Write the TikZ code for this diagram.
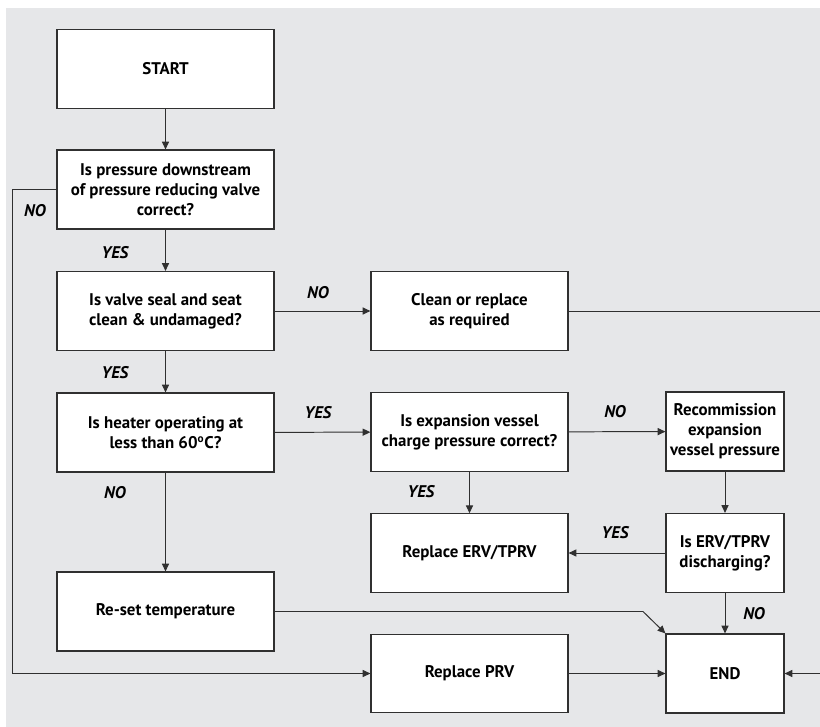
\documentclass[tikz,border=0pt]{standalone}
\usepackage{fontspec}
\setmainfont{PT Sans}
\usetikzlibrary{arrows.meta}

\definecolor{panelgray}{HTML}{E6E7E9}
\definecolor{linegray}{HTML}{303030}

\begin{document}
\begin{tikzpicture}[x=0.025cm, y=-0.025cm,
  box/.style={draw=linegray, line width=0.8pt, fill=white, align=center,
    inner sep=2pt, font=\fontsize{12}{14.2}\selectfont\bfseries},
  widebox/.style={box, minimum width=5.425cm, minimum height=1.975cm},
  midbox/.style={box, minimum width=4.925cm, minimum height=1.96cm},
  smallbox/.style={box, minimum width=2.95cm, minimum height=1.975cm},
  answer/.style={font=\fontsize{12}{14}\selectfont\bfseries\itshape, inner sep=0pt},
  arrow/.style={draw=linegray, line width=0.7pt, -{Triangle[length=5.5pt, width=5pt]}}]

\useasboundingbox (0,0) rectangle (820,727);
\fill[panelgray] (6,8) rectangle (840,740);

% Left column
\node[widebox] (start) at (165.5,69) {START};
\node[widebox] (pressure) at (165.5,189.5) {Is pressure downstream\\of pressure reducing valve\\correct?};
\node[widebox] (seal) at (165.5,311) {Is valve seal and seat\\clean \& undamaged?};
\node[widebox] (heater) at (165.5,432.5) {Is heater operating at\\less than 60\textsuperscript{o}C?};
\node[widebox] (reset) at (165.5,611.5) {Re-set temperature};

% Middle column
\node[midbox] (clean) at (469.5,311) {Clean or replace\\as required};
\node[midbox] (vessel) at (469.5,432) {Is expansion vessel\\charge pressure correct?};
\node[midbox] (replerv) at (469.5,553) {Replace ERV/TPRV};
\node[midbox] (replprv) at (469.5,673.5) {Replace PRV};

% Right column
\node[smallbox] (recomm) at (725,431.5) {Recommission\\expansion\\vessel pressure};
\node[smallbox] (discharge) at (725,553) {Is ERV/TPRV\\discharging?};
\node[smallbox] (end) at (725,673.5) {END};

% Bends of the long connectors
\coordinate (bend) at (643,611.5);
\coordinate (rim) at (830,311);

% Connectors
\draw[arrow] (start) -- (pressure);
\draw[arrow] (pressure) -- (seal);
\draw[arrow] (seal) -- (heater);
\draw[arrow] (heater) -- (reset);
\draw[arrow] (seal) -- (clean);
\draw[arrow] (heater) -- (vessel);
\draw[arrow] (vessel) -- (recomm);
\draw[arrow] (vessel) -- (replerv);
\draw[arrow] (recomm) -- (discharge);
\draw[arrow] (discharge) -- (replerv);
\draw[arrow] (discharge) -- (end);
\draw[arrow] (replprv) -- (end);
\draw[arrow] (pressure.west) -- ++(-44,0) |- (replprv.west);
\draw[arrow] (reset.east) -- (bend) -- (end.north west);
\draw[arrow] (clean.east) -- (rim) |- (end.east);

% Answers
\node[answer] (noA) at (35,211) {NO};
\node[answer] (yesA) at (115,253) {YES};
\node[answer] (noB) at (318,293) {NO};
\node[answer] (yesB) at (115,373) {YES};
\node[answer] (yesC) at (318,413) {YES};
\node[answer] (noC) at (615,412) {NO};
\node[answer] (yesD) at (421,492) {YES};
\node[answer] (noD) at (115,493) {NO};
\node[answer] (yesE) at (615,533) {YES};
\node[answer] (noE) at (754,614) {NO};

\end{tikzpicture}
\end{document}
